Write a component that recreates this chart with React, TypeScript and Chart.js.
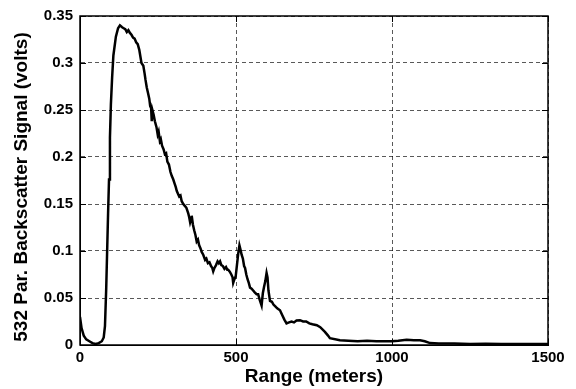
import React, { useEffect, useRef } from "react";
import { Chart, registerables } from "chart.js";

Chart.register(...registerables);

const rangeMeters = [
  0, 5, 12, 20, 30, 40, 50, 60, 70, 76, 80, 84, 87, 90, 93, 96, 99, 103, 107, 115,
  122, 128, 135, 140, 145, 150, 155, 160, 165, 170, 175, 180, 185, 190, 197, 203, 207, 210, 214, 218,
  222, 225, 228, 230, 232, 236, 240, 245, 249, 252, 256, 259, 263, 268, 272, 276, 280, 285, 290, 294,
  299, 303, 307, 310, 314, 318, 322, 326, 331, 336, 341, 347, 350, 353, 356, 358, 362, 366, 370, 374,
  378, 382, 386, 390, 395, 401, 405, 410, 415, 420, 424, 427, 431, 436, 441, 445, 449, 453, 458, 463,
  468, 472, 475, 480, 485, 489, 491, 495, 499, 503, 507, 511, 514, 518, 522, 526, 529, 533, 537, 541,
  545, 550, 555, 560, 566, 571, 576, 582, 586, 590, 594, 598, 601, 604, 609, 615, 620, 626, 632, 641,
  648, 655, 662, 670, 678, 686, 694, 705, 715, 725, 735, 745, 759, 770, 785, 795, 801, 833, 860, 890,
  920, 950, 980, 1000, 1020, 1047, 1070, 1090, 1105, 1122, 1150, 1200, 1250, 1300, 1350, 1400, 1450, 1500,
];

const signalVolts = [
  0.03, 0.018, 0.01, 0.006, 0.004, 0.002, 0.001, 0.002, 0.004, 0.008, 0.02, 0.06, 0.1, 0.14, 0.176, 0.221, 0.256, 0.285, 0.308, 0.328,
  0.337, 0.34, 0.338, 0.337, 0.336, 0.333, 0.335, 0.332, 0.33, 0.327, 0.326, 0.322, 0.32, 0.314, 0.3, 0.297, 0.289, 0.282, 0.274, 0.268,
  0.262, 0.254, 0.252, 0.238, 0.25, 0.245, 0.238, 0.232, 0.224, 0.227, 0.217, 0.219, 0.212, 0.208, 0.203, 0.204, 0.195, 0.192, 0.184, 0.18,
  0.176, 0.172, 0.168, 0.164, 0.161, 0.158, 0.159, 0.153, 0.15, 0.148, 0.146, 0.14, 0.136, 0.1305, 0.134, 0.1375, 0.128, 0.122, 0.117, 0.11,
  0.112, 0.106, 0.103, 0.099, 0.096, 0.0906, 0.092, 0.087, 0.088, 0.084, 0.082, 0.0784, 0.082, 0.085, 0.089, 0.087, 0.089, 0.085, 0.084, 0.081,
  0.083, 0.08, 0.08, 0.078, 0.075, 0.072, 0.066, 0.07, 0.073, 0.085, 0.097, 0.106, 0.102, 0.096, 0.092, 0.084, 0.082, 0.075, 0.07, 0.066,
  0.061, 0.06, 0.058, 0.056, 0.054, 0.054, 0.048, 0.042, 0.055, 0.062, 0.068, 0.0767, 0.072, 0.058, 0.047, 0.046, 0.043, 0.041, 0.039, 0.037,
  0.032, 0.027, 0.023, 0.024, 0.025, 0.024, 0.026, 0.0264, 0.025, 0.025, 0.023, 0.022, 0.021, 0.019, 0.014, 0.01, 0.0073, 0.005, 0.0045, 0.004,
  0.0045, 0.004, 0.004, 0.004, 0.0045, 0.0055, 0.005, 0.005, 0.004, 0.002, 0.0015, 0.0015, 0.001, 0.0012, 0.001, 0.001, 0.001, 0.001,
];

const xTickValues = [0, 500, 1000, 1500];
const xTickLabels = ["0", "500", "1000", "1500"];
const yTickValues = [0, 0.05, 0.1, 0.15, 0.2, 0.25, 0.3, 0.35];
const yTickLabels = ["0", "0.05", "0.1", "0.15", "0.2", "0.25", "0.3", "0.35"];
const xTitle = "Range (meters)";
const yTitle = "532 Par. Backscatter Signal (volts)";

const FONT = "'Liberation Sans', Arial, sans-serif";

const boxPlugin = {
  id: "matlabBox",
  afterDraw(chart: any) {
    const { ctx, chartArea } = chart;
    const { left, right, top, bottom } = chartArea;
    const xs = chart.scales.x;
    const ys = chart.scales.y;
    ctx.save();
    ctx.strokeStyle = "#000";
    ctx.lineWidth = 1.5;
    ctx.setLineDash([]);
    ctx.strokeRect(left, top, right - left, bottom - top);
    ctx.lineWidth = 1;
    const tl = 6;
    ctx.beginPath();
    xTickValues.forEach((v) => {
      const px = Math.round(xs.getPixelForValue(v)) + 0.5;
      ctx.moveTo(px, bottom);
      ctx.lineTo(px, bottom - tl);
      ctx.moveTo(px, top);
      ctx.lineTo(px, top + tl);
    });
    yTickValues.forEach((v) => {
      const py = Math.round(ys.getPixelForValue(v)) + 0.5;
      ctx.moveTo(left, py);
      ctx.lineTo(left + tl, py);
      ctx.moveTo(right, py);
      ctx.lineTo(right - tl, py);
    });
    ctx.stroke();
    // y axis title
    ctx.translate(21.5, 187);
    ctx.rotate(-Math.PI / 2);
    ctx.fillStyle = "#000";
    ctx.font = `bold 19px ${FONT}`;
    ctx.textAlign = "center";
    ctx.textBaseline = "middle";
    ctx.fillText(yTitle, 0, 0);
    ctx.restore();
  },
};

export default function App() {
  const canvasRef = useRef<HTMLCanvasElement | null>(null);

  useEffect(() => {
    if (!canvasRef.current) return;
    const points = rangeMeters.map((x, i) => ({ x, y: signalVolts[i] }));
    const gridStyle = {
      color: "rgba(0,0,0,0.65)",
      lineWidth: 1,
      drawTicks: false,
    };
    const chart = new Chart(canvasRef.current, {
      type: "line",
      data: {
        datasets: [
          {
            data: points,
            borderColor: "#000",
            borderWidth: 2.5,
            pointRadius: 0,
            tension: 0,
            fill: false,
          },
        ],
      },
      options: {
        animation: false,
        responsive: true,
        maintainAspectRatio: false,
        parsing: false as any,
        layout: { padding: { top: 10, right: 28, left: 0, bottom: 0 } },
        plugins: {
          legend: { display: false },
          tooltip: { enabled: false },
        },
        scales: {
          x: {
            type: "linear",
            min: 0,
            max: 1500,
            afterBuildTicks: (scale: any) => {
              scale.ticks = xTickValues.map((v) => ({ value: v }));
            },
            afterFit: (scale: any) => {
              scale.height = 44;
            },
            grid: gridStyle,
            border: { display: true, color: "#000", width: 1, dash: [4, 3] },
            ticks: {
              color: "#000",
              padding: 4,
              maxRotation: 0,
              font: { family: FONT, size: 15, weight: "bold" },
              callback: (v: any) => {
                const i = xTickValues.indexOf(Number(v));
                return i >= 0 ? xTickLabels[i] : "";
              },
            },
            title: {
              display: true,
              text: xTitle,
              color: "#000",
              font: { family: FONT, size: 19, weight: "bold" },
              padding: { top: 0, bottom: 1 },
            },
          },
          y: {
            type: "linear",
            min: 0,
            max: 0.35,
            afterBuildTicks: (scale: any) => {
              scale.ticks = yTickValues.map((v) => ({ value: v }));
            },
            afterFit: (scale: any) => {
              scale.width = 80;
            },
            grid: gridStyle,
            border: { display: true, color: "#000", width: 1, dash: [4, 3] },
            ticks: {
              color: "#000",
              padding: 7,
              font: { family: FONT, size: 15, weight: "bold" },
              callback: (v: any) => {
                const i = yTickValues.findIndex((t) => Math.abs(t - Number(v)) < 1e-9);
                return i >= 0 ? yTickLabels[i] : "";
              },
            },
          },
        },
      },
      plugins: [boxPlugin],
    });
    return () => chart.destroy();
  }, []);

  return (
    <div
      style={{
        position: "fixed",
        left: 0,
        top: 0,
        width: 576,
        height: 389,
        background: "#fff",
      }}
    >
      <canvas ref={canvasRef} />
    </div>
  );
}
